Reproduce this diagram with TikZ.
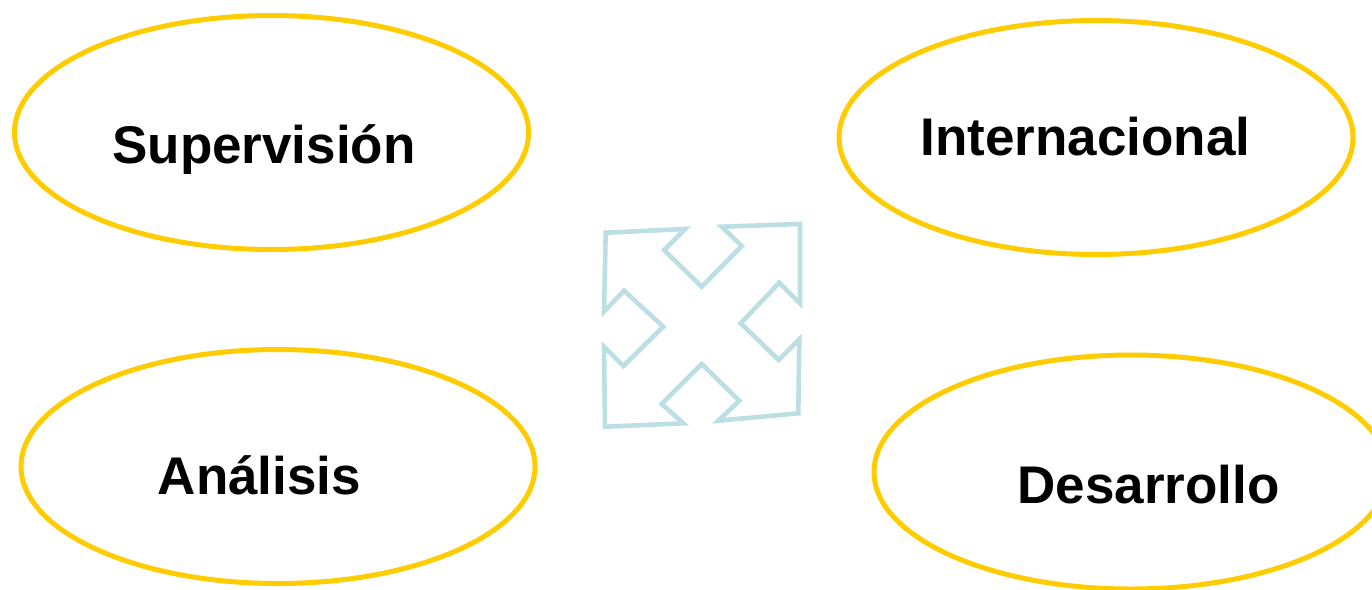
\documentclass[tikz,border=0pt]{standalone}
\usepackage{fontspec}
\setmainfont{Liberation Sans}
\usetikzlibrary{shapes.geometric}
\definecolor{gold}{RGB}{255,204,0}
\definecolor{paleblue}{RGB}{187,223,227}
\tikzset{
  oval/.style={ellipse, draw=gold, line width=5pt, minimum width=514pt, minimum height=234pt, inner sep=0pt, outer sep=0pt},
  lbl/.style={anchor=base, inner sep=0pt, font=\fontsize{53}{61}\selectfont\bfseries, text=black},
  icon/.style={draw=paleblue, line width=4.6pt, line join=miter}
}
\begin{document}
\begin{tikzpicture}[x=1pt,y=-1pt]
\useasboundingbox (0,0) rectangle (1372,589);
\begin{scope}
\clip (0,0) rectangle (1372,589);
\node[oval] (sup) at (271.5,132.5) {};
\node[oval] (int) at (1096,137.5) {};
\node[oval] (ana) at (278,466.5) {};
\node[oval] (des) at (1131,472) {};
\end{scope}
\node[lbl] (tsup) at (264,163) {Supervisión};
\node[lbl] (tint) at (1085.5,155) {Internacional};
\node[lbl] (tana) at (259.5,494) {Análisis};
\node[lbl] (tdes) at (1148.5,503) {Desarrollo};
\draw[icon] (605.7,232.7) -- (685,229) -- (664,250) -- (701.7,286.7) -- (741.7,246) -- (721.7,226.7) -- (800,224)
  -- (800,303.3) -- (779.3,282.7) -- (740.7,323.3) -- (778.7,360) -- (799.3,339.3) -- (798.3,413.3)
  -- (718.3,420.7) -- (739.3,400.7) -- (701.7,364) -- (661.7,404) -- (683.3,423.3) -- (605,426.7)
  -- (604,346.7) -- (623.3,366) -- (663.3,326.7) -- (624,290.7) -- (604,311.7) -- cycle;
\end{tikzpicture}
\end{document}
